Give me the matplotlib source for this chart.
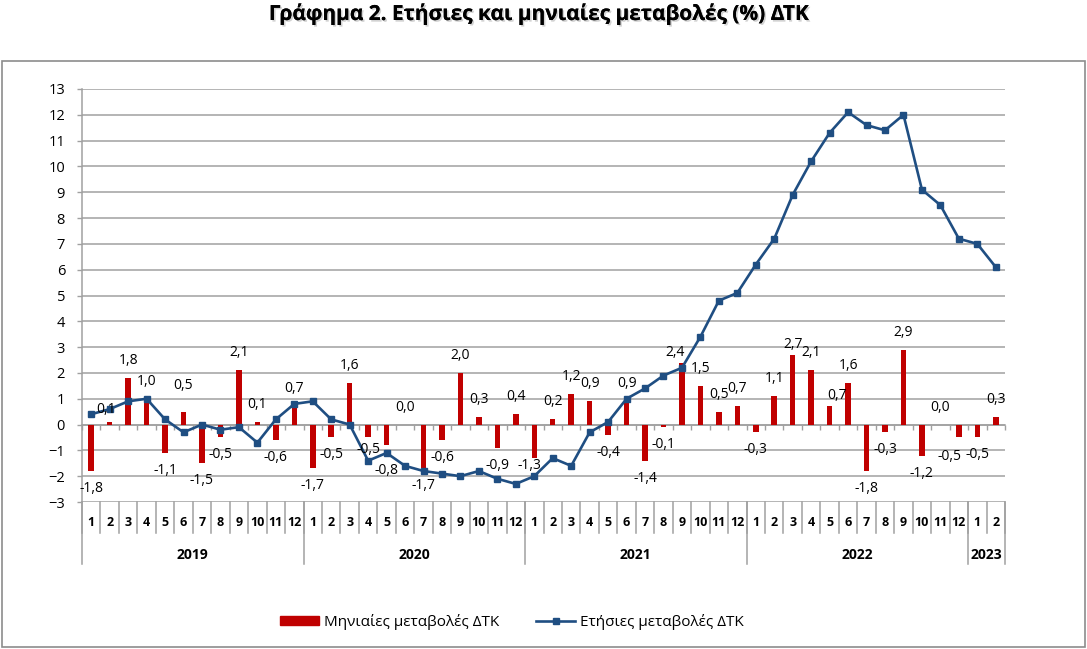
import matplotlib
matplotlib.use("Agg")
import matplotlib.pyplot as plt
import matplotlib.patches as mpatches
import matplotlib.patheffects as pe
from matplotlib.lines import Line2D
from matplotlib.ticker import MultipleLocator, FixedLocator, NullFormatter
import numpy as np

plt.rcParams['font.family'] = ['Open Sans', 'DejaVu Sans']

# ---------------- data ----------------
years = ["2019", "2020", "2021", "2022", "2023"]
months_per_year = [12, 12, 12, 12, 2]
month_labels = [str(m) for n in months_per_year for m in range(1, n + 1)]

monthly_change = [
    -1.8, 0.1, 1.8, 1.0, -1.1, 0.5, -1.5, -0.5, 2.1, 0.1, -0.6, 0.7,   # 2019
    -1.7, -0.5, 1.6, -0.5, -0.8, 0.0, -1.7, -0.6, 2.0, 0.3, -0.9, 0.4,  # 2020
    -1.3, 0.2, 1.2, 0.9, -0.4, 0.9, -1.4, -0.1, 2.4, 1.5, 0.5, 0.7,     # 2021
    -0.3, 1.1, 2.7, 2.1, 0.7, 1.6, -1.8, -0.3, 2.9, -1.2, 0.0, -0.5,    # 2022
    -0.5, 0.3,                                                          # 2023
]
annual_change = [
    0.4, 0.6, 0.9, 1.0, 0.2, -0.3, 0.0, -0.2, -0.1, -0.7, 0.2, 0.8,     # 2019
    0.9, 0.2, 0.0, -1.4, -1.1, -1.6, -1.8, -1.9, -2.0, -1.8, -2.1, -2.3, # 2020
    -2.0, -1.3, -1.6, -0.3, 0.1, 1.0, 1.4, 1.9, 2.2, 3.4, 4.8, 5.1,     # 2021
    6.2, 7.2, 8.9, 10.2, 11.3, 12.1, 11.6, 11.4, 12.0, 9.1, 8.5, 7.2,   # 2022
    7.0, 6.1,                                                           # 2023
]

title = "Γράφημα 2. Ετήσιες και μηνιαίες μεταβολές (%) ΔΤΚ"
bar_name = "Μηνιαίες μεταβολές ΔΤΚ"
line_name = "Ετήσιες μεταβολές ΔΤΚ"

# ---------------- style ----------------
W, H = 1087, 649
BAR_COLOR = "#C00000"
LINE_COLOR = "#1F4E82"
GRID_COLOR = "#A0A0A0"
PX = 72 / 100  # points per pixel

# manual label placement tweaks (index -> (dx px, distance px from bar end))
LABEL_TWEAKS = {1: (-4, 12), 5: (0, 26), 15: (0, 12), 16: (0, 25),
                24: (-5, 7), 32: (-7, 10), 38: (0, 10), 40: (7, 11),
                47: (-9, 19)}
LABEL_DIST = 17.5

fig = plt.figure(figsize=(W / 100, H / 100), dpi=100)
ax = fig.add_axes([82 / W, 1 - 502 / H, (1005 - 82) / W, (502 - 89) / H])

x = np.arange(len(month_labels))

ax.bar(x, monthly_change, width=0.3, color=BAR_COLOR, zorder=3)
ax.plot(x, annual_change, color=LINE_COLOR, lw=1.9, marker="s", ms=3.8,
        mfc=LINE_COLOR, mec=LINE_COLOR, zorder=4)

ax.set_xlim(-0.5, len(x) - 0.5)
ax.set_ylim(-3, 13)

# y axis
ax.yaxis.set_major_locator(MultipleLocator(1))
ax.grid(axis="y", color=GRID_COLOR, lw=1.1, zorder=0)
ax.tick_params(axis="y", direction="out", length=5 * PX / 0.72 * 0.72, width=1.0,
               color=GRID_COLOR, pad=12 * PX, labelsize=10.5, labelcolor="black")

# spines
for s in ["top", "right"]:
    ax.spines[s].set_visible(False)
ax.spines["left"].set_color(GRID_COLOR)
ax.spines["left"].set_linewidth(1.1)
ax.spines["bottom"].set_position(("data", 0))
ax.spines["bottom"].set_color(GRID_COLOR)
ax.spines["bottom"].set_linewidth(1.1)

# x ticks at category boundaries on the zero axis
bounds = np.arange(len(x) + 1) - 0.5
ax.xaxis.set_major_locator(FixedLocator(bounds))
ax.xaxis.set_major_formatter(NullFormatter())
ax.tick_params(axis="x", direction="out", length=5 * PX, width=1.0, color=GRID_COLOR)

# data labels on bars
for i, (xi, v) in enumerate(zip(x, monthly_change)):
    dx, dist = LABEL_TWEAKS.get(i, (0, LABEL_DIST))
    sign = 1 if v >= 0 else -1
    ax.annotate(f"{v:.1f}".replace(".", ","), (xi, v),
                xytext=(dx * PX, sign * dist * PX),
                textcoords="offset points", ha="center", va="center",
                fontsize=10, color="black", zorder=5)

# multi-level category axis below plot area
trans = ax.get_xaxis_transform()
ah = 502 - 89
mh = 31 / ah
yh = 62 / ah
for b in bounds:
    ax.plot([b, b], [0, -mh], transform=trans, color=GRID_COLOR, lw=1.1,
            clip_on=False, zorder=1)
for xi, lab in zip(x, month_labels):
    ax.text(xi, -21 / ah, lab, transform=trans, ha="center", va="center",
            fontsize=9, fontweight="bold")
start = 0
for yr, n in zip(years, months_per_year):
    ax.plot([start - 0.5, start - 0.5], [0, -yh], transform=trans,
            color=GRID_COLOR, lw=1.1, clip_on=False, zorder=1)
    ax.text(start + (n - 1) / 2, -53 / ah, yr, transform=trans, ha="center",
            va="center", fontsize=10, fontweight="bold")
    start += n
ax.plot([start - 0.5, start - 0.5], [0, -yh], transform=trans,
        color=GRID_COLOR, lw=1.1, clip_on=False, zorder=1)

# title
fig.text(539 / W, 1 - 14 / H, title, ha="center", va="center", fontsize=15,
         fontweight="bold",
         path_effects=[pe.withSimplePatchShadow(offset=(1.2, -1.2), shadow_rgbFace="gray", alpha=0.35),
                       pe.Normal()])

# chart border
fig.patches.append(mpatches.Rectangle((2 / W, 2 / H), (1085 - 2) / W, (647 - 61) / H,
                                      transform=fig.transFigure, fill=False,
                                      edgecolor="#8C8C8C", lw=1.2))

# legend
handles = [mpatches.Patch(color=BAR_COLOR, label=bar_name),
           Line2D([], [], color=LINE_COLOR, lw=1.9, marker="s", ms=3.8,
                  label=line_name)]
fig.legend(handles=handles, loc="center", bbox_to_anchor=(512 / W, 1 - 622 / H),
           ncol=2, frameon=False, fontsize=11, handlelength=2.55,
           handleheight=0.5, columnspacing=2.4, handletextpad=0.35)

fig.savefig("out.png", dpi=100)
